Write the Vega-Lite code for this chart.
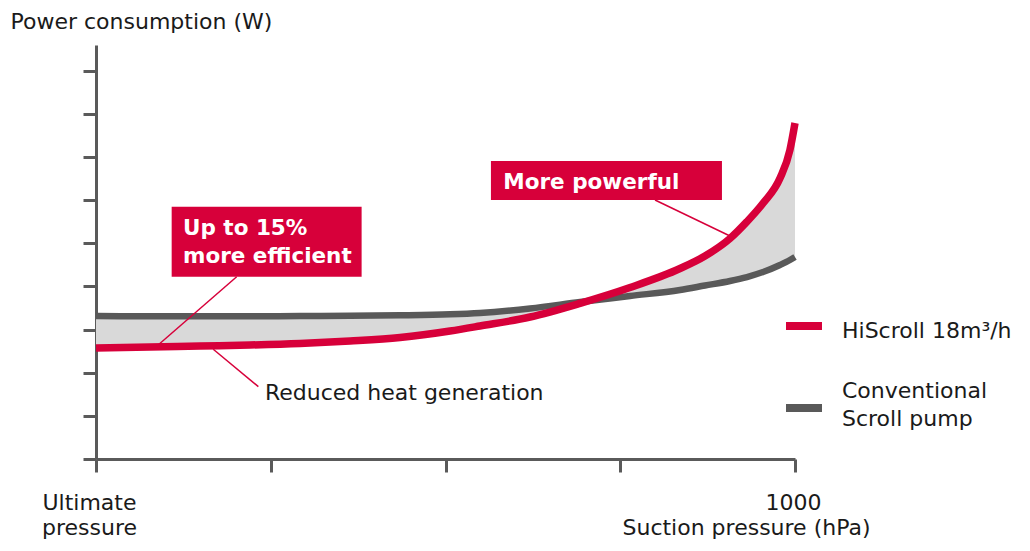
{
  "$schema": "https://vega.github.io/schema/vega-lite/v6.json",
  "width": 699,
  "height": 414,
  "autosize": {"type": "none"},
  "padding": {"left": 96, "top": 45, "right": 235, "bottom": 92},
  "background": "white",
  "config": {"view": {"stroke": null}, "font": "DejaVu Sans"},
  "datasets": {
    "curves": [
      {"x": 0, "hiscroll": 2.574, "conventional": 3.316},
      {"x": 0.309, "hiscroll": 2.597, "conventional": 3.309},
      {"x": 0.595, "hiscroll": 2.62, "conventional": 3.309},
      {"x": 0.881, "hiscroll": 2.643, "conventional": 3.309},
      {"x": 1.167, "hiscroll": 2.678, "conventional": 3.316},
      {"x": 1.454, "hiscroll": 2.736, "conventional": 3.321},
      {"x": 1.74, "hiscroll": 2.817, "conventional": 3.332},
      {"x": 2.026, "hiscroll": 2.968, "conventional": 3.355},
      {"x": 2.197, "hiscroll": 3.084, "conventional": 3.386},
      {"x": 2.484, "hiscroll": 3.293, "conventional": 3.49},
      {"x": 2.77, "hiscroll": 3.61, "conventional": 3.641},
      {"x": 3.056, "hiscroll": 3.977, "conventional": 3.78},
      {"x": 3.342, "hiscroll": 4.417, "conventional": 3.919},
      {"x": 3.485, "hiscroll": 4.707, "conventional": 4.023},
      {"x": 3.628, "hiscroll": 5.113, "conventional": 4.128},
      {"x": 3.725, "hiscroll": 5.503, "conventional": 4.22},
      {"x": 3.817, "hiscroll": 5.93, "conventional": 4.336},
      {"x": 3.914, "hiscroll": 6.509, "conventional": 4.499},
      {"x": 3.971, "hiscroll": 7.165, "conventional": 4.614},
      {"x": 4.0, "hiscroll": 7.791, "conventional": 4.684}
    ],
    "boxes": [
      {"x": 0.433, "x2": 1.52, "y": 5.85, "y2": 4.227},
      {"x": 2.26, "x2": 3.582, "y": 6.91, "y2": 6.006}
    ],
    "boxtext": [
      {"x": 0.498, "y": 5.194, "label": "Up to 15%\nmore efficient"},
      {"x": 2.331, "y": 6.254, "label": "More powerful"}
    ],
    "notes": [
      {"x": 0.967, "y": 1.368, "label": "Reduced heat generation"}
    ],
    "leaders": [
      {"x": 0.805, "y": 4.227, "x2": 0.349, "y2": 2.62},
      {"x": 0.671, "y": 2.544, "x2": 0.929, "y2": 1.677},
      {"x": 3.199, "y": 6.006, "x2": 3.628, "y2": 5.171}
    ]
  },
  "layer": [
    {
      "data": {"name": "curves"},
      "mark": {"type": "area", "color": "#d9d9d9", "interpolate": "monotone"},
      "encoding": {
        "x": {
          "field": "x", "type": "quantitative",
          "scale": {"domain": [0, 4], "nice": false},
          "axis": {
            "title": "Suction pressure (hPa)",
            "values": [0, 1, 2, 3, 4],
            "grid": false,
            "domainColor": "#5a5a5a", "domainWidth": 3,
            "tickColor": "#5a5a5a", "tickWidth": 3, "tickSize": 13,
            "labelExpr": "datum.value == 0 ? ['Ultimate','pressure'] : datum.value == 4 ? '1000' : ''",
            "labelFont": "DejaVu Sans", "labelFontSize": 22, "labelColor": "#1a1a1a",
            "labelPadding": 20, "labelBaseline": "top", "labelLineHeight": 25,
            "labelOffset": {"condition": {"test": "datum.value == 0", "value": -7}, "value": -2},
            "labelOverlap": false, "labelFlush": false,
            "titleX": 774, "titleY": 75, "titleAlign": "right", "titleBaseline": "alphabetic",
            "titleFont": "DejaVu Sans", "titleFontSize": 22, "titleFontWeight": "normal", "titleColor": "#1a1a1a"
          }
        },
        "y": {
          "field": "hiscroll", "type": "quantitative",
          "scale": {"domain": [0, 9.6], "nice": false},
          "axis": {
            "title": "Power consumption (W)",
            "values": [0, 1, 2, 3, 4, 5, 6, 7, 8, 9],
            "labels": false, "grid": false,
            "domainColor": "#5a5a5a", "domainWidth": 3,
            "tickColor": "#5a5a5a", "tickWidth": 3, "tickSize": 13,
            "titleAngle": 0, "titleX": -86, "titleY": -17, "titleAlign": "left", "titleBaseline": "alphabetic",
            "titleFont": "DejaVu Sans", "titleFontSize": 22, "titleFontWeight": "normal", "titleColor": "#1a1a1a"
          }
        },
        "y2": {"field": "conventional"}
      }
    },
    {
      "data": {"name": "curves"},
      "mark": {"type": "line", "interpolate": "monotone", "strokeWidth": 6.5},
      "encoding": {
        "x": {"field": "x", "type": "quantitative"},
        "y": {"field": "conventional", "type": "quantitative"},
        "color": {
          "datum": "conventional",
          "scale": {"domain": ["hiscroll", "conventional"], "range": ["#d7003a", "#595959"]},
          "legend": {
            "orient": "none", "legendX": 686, "legendY": 259,
            "title": null, "padding": 0,
            "symbolType": "stroke", "symbolSize": 1296, "symbolStrokeWidth": 8,
            "labelFont": "DejaVu Sans", "labelFontSize": 22, "labelColor": "#1a1a1a",
            "labelOffset": 16, "labelLimit": 300, "labelBaseline": "middle",
            "rowPadding": 38,
            "labelExpr": "datum.value == 'hiscroll' ? 'HiScroll 18m³/h' : ['Conventional','Scroll pump']",
            "encode": {
              "labels": {
                "update": {
                  "dy": {"signal": "datum.value == 'hiscroll' ? 5 : -17"},
                  "lineHeight": {"value": 28}
                }
              }
            }
          }
        }
      }
    },
    {
      "data": {"name": "curves"},
      "mark": {"type": "line", "interpolate": "monotone", "strokeWidth": 7.5},
      "encoding": {
        "x": {"field": "x", "type": "quantitative"},
        "y": {"field": "hiscroll", "type": "quantitative"},
        "color": {"datum": "hiscroll"}
      }
    },
    {
      "data": {"name": "leaders"},
      "mark": {"type": "rule", "color": "#d7003a", "strokeWidth": 1.5},
      "encoding": {
        "x": {"field": "x", "type": "quantitative"},
        "y": {"field": "y", "type": "quantitative"},
        "x2": {"field": "x2"},
        "y2": {"field": "y2"}
      }
    },
    {
      "data": {"name": "boxes"},
      "mark": {"type": "rect", "color": "#d7003a"},
      "encoding": {
        "x": {"field": "x", "type": "quantitative"},
        "y": {"field": "y", "type": "quantitative"},
        "x2": {"field": "x2"},
        "y2": {"field": "y2"}
      }
    },
    {
      "data": {"name": "boxtext"},
      "mark": {"type": "text", "color": "white", "font": "DejaVu Sans", "fontWeight": "bold", "fontSize": 21.5, "align": "left", "baseline": "alphabetic", "lineBreak": "\n", "lineHeight": 28},
      "encoding": {
        "x": {"field": "x", "type": "quantitative"},
        "y": {"field": "y", "type": "quantitative"},
        "text": {"field": "label"}
      }
    },
    {
      "data": {"name": "notes"},
      "mark": {"type": "text", "color": "#1a1a1a", "font": "DejaVu Sans", "fontSize": 22, "align": "left", "baseline": "alphabetic"},
      "encoding": {
        "x": {"field": "x", "type": "quantitative"},
        "y": {"field": "y", "type": "quantitative"},
        "text": {"field": "label"}
      }
    }
  ]
}
